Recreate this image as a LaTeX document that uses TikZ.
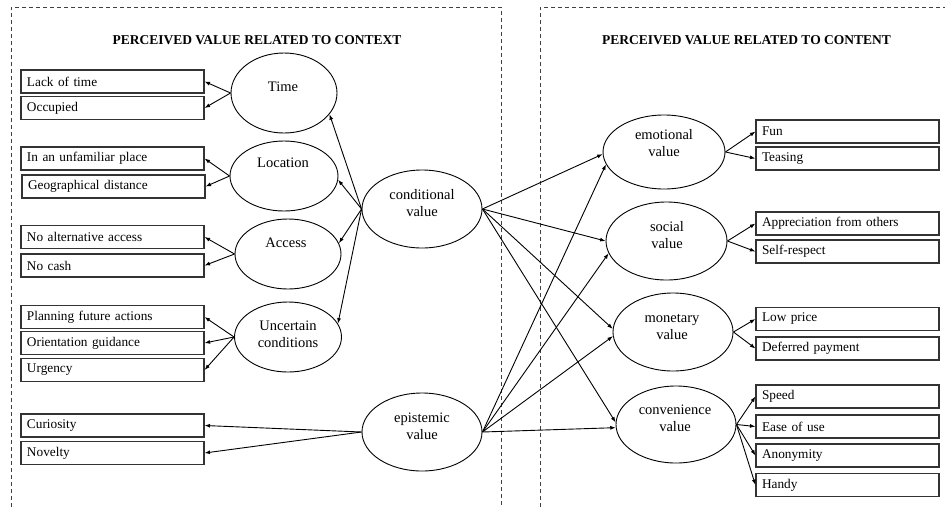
\documentclass[tikz,border=0pt]{standalone}
\usepackage{fontspec}
\setmainfont{Liberation Serif}
\usetikzlibrary{shapes.geometric,arrows.meta}

\begin{document}
\begin{tikzpicture}[x=1pt,y=-1pt,
  frame/.style={draw=black!75,line width=0.9pt,dash pattern=on 4pt off 3pt},
  item/.style={draw=black!80,line width=1.1pt,rectangle,minimum height=23pt,
    text width=171pt,inner xsep=6pt,inner ysep=0pt,align=left,
    font=\fontsize{13.3}{15}\selectfont},
  factor/.style={draw,ellipse,line width=0.9pt,inner sep=0pt},
  flabel/.style={align=center,font=\fontsize{14.5}{17}\selectfont,inner sep=0pt},
  heading/.style={font=\bfseries\fontsize{13.5}{16}\selectfont},
  link/.style={-{Latex[length=5.5pt,width=4pt]},line width=0.9pt},
]
\useasboundingbox (0,0) rectangle (945,507);

% dashed group frames
\draw[frame] (11,507) -- (11,7) -- (501,7) -- (501,507);
\draw[frame] (540,507) -- (540,7) -- (945,7);

% headings
\node[heading] (ctx) at (257,40) {PERCEIVED VALUE RELATED TO CONTEXT};
\node[heading] (cnt) at (746.5,40) {PERCEIVED VALUE RELATED TO CONTENT};

% context items
\node[item] (lack)   at (112.5,81.5)  {Lack of time};
\node[item] (occ)    at (112.5,108)   {Occupied};
\node[item] (unfam)  at (112.5,158.5) {In an unfamiliar place};
\node[item] (geo)    at (113.5,186.5) {Geographical distance};
\node[item] (noalt)  at (112.5,237)   {No alternative access};
\node[item] (cash)   at (112.5,265.5) {No cash};
\node[item] (plan)   at (112.5,317)   {Planning future actions};
\node[item] (orient) at (112.5,343)   {Orientation guidance};
\node[item] (urg)    at (112.5,370)   {Urgency};
\node[item] (cur)    at (112.5,425.5) {Curiosity};
\node[item] (nov)    at (112.5,453)   {Novelty};

% content items
\node[item] (fun)   at (847.5,131.5) {Fun};
\node[item] (teas)  at (847.5,158.5) {Teasing};
\node[item] (appr)  at (847.5,223.5) {Appreciation from others};
\node[item] (self)  at (847.5,251.5) {Self-respect};
\node[item] (low)   at (847.5,319)   {Low price};
\node[item] (defp)  at (847.5,348.5) {Deferred payment};
\node[item] (speed) at (847.5,396.5) {Speed};
\node[item] (ease)  at (847.5,426.5) {Ease of use};
\node[item] (anon)  at (847.5,455.5) {Anonymity};
\node[item] (handy) at (847.5,485)   {Handy};

% value dimensions
\node[factor,minimum width=106pt,minimum height=80pt] (time) at (284,93) {};
\node[factor,minimum width=108pt,minimum height=70pt] (loc)  at (284,176) {};
\node[factor,minimum width=106pt,minimum height=70pt] (acc)  at (288,254) {};
\node[factor,minimum width=107pt,minimum height=70pt] (unc)  at (288,337) {};
\node[factor,minimum width=120pt,minimum height=78pt] (cond) at (422,209) {};
\node[factor,minimum width=120pt,minimum height=78pt] (epi)  at (422,432) {};
\node[factor,minimum width=122pt,minimum height=74pt] (emo)  at (664,152) {};
\node[factor,minimum width=121pt,minimum height=78pt] (soc)  at (666.5,241) {};
\node[factor,minimum width=120pt,minimum height=78pt] (mon)  at (673,332) {};
\node[factor,minimum width=120pt,minimum height=77pt] (conv) at (676,424.5) {};

% their labels, set in the upper part of each ellipse
\node[flabel] (timet) at (283,87)    {Time};
\node[flabel] (loct)  at (283,163)   {Location};
\node[flabel] (acct)  at (286,243)   {Access};
\node[flabel] (unct)  at (288,334)   {Uncertain\\conditions};
\node[flabel] (condt) at (422,203)   {conditional\\value};
\node[flabel] (epit)  at (422,426)   {epistemic\\value};
\node[flabel] (emot)  at (664,143.5) {emotional\\value};
\node[flabel] (soct)  at (667,235)   {social\\value};
\node[flabel] (mont)  at (672,327)   {monetary\\value};
\node[flabel] (convt) at (675,418.5) {convenience\\value};

% context dimensions to their items
\draw[link] (time.west) -- (lack.east);
\draw[link] (time.west) -- (occ.east);
\draw[link] (loc.west) -- (unfam.east);
\draw[link] (loc.west) -- (geo.east);
\draw[link] (acc.west) -- (noalt.east);
\draw[link] (acc.west) -- (cash.east);
\draw[link] (unc.west) -- (plan.east);
\draw[link] (unc.west) -- (orient.east);
\draw[link] (unc.west) -- (urg.east);
\draw[link] (epi.west) -- (cur.east);
\draw[link] (epi.west) -- (nov.east);

% conditional value to its dimensions
\draw[link] (cond.west) -- (time.-25);
\draw[link] (cond.west) -- (loc.-4);
\draw[link] (cond.west) -- (acc.12);
\draw[link] (cond.west) -- (unc.15);

% content dimensions to their items
\draw[link] (emo.east) -- (fun.west);
\draw[link] (emo.east) -- (teas.west);
\draw[link] (soc.east) -- (appr.west);
\draw[link] (soc.east) -- (self.west);
\draw[link] (mon.east) -- (low.west);
\draw[link] (mon.east) -- (defp.west);
\draw[link] (conv.east) -- (speed.west);
\draw[link] (conv.east) -- (ease.west);
\draw[link] (conv.east) -- (anon.west);
\draw[link] (conv.east) -- (handy.west);

% context values feeding content values
\draw[link] (cond.east) -- (emo.182);
\draw[link] (cond.east) -- (soc.west);
\draw[link] (cond.east) -- (mon.177);
\draw[link] (cond.east) -- (conv.178);
\draw[link] (epi.east) -- (emo.192);
\draw[link] (epi.east) -- (soc.192);
\draw[link] (epi.east) -- (mon.184);
\draw[link] (epi.east) -- (conv.183);
\end{tikzpicture}
\end{document}
